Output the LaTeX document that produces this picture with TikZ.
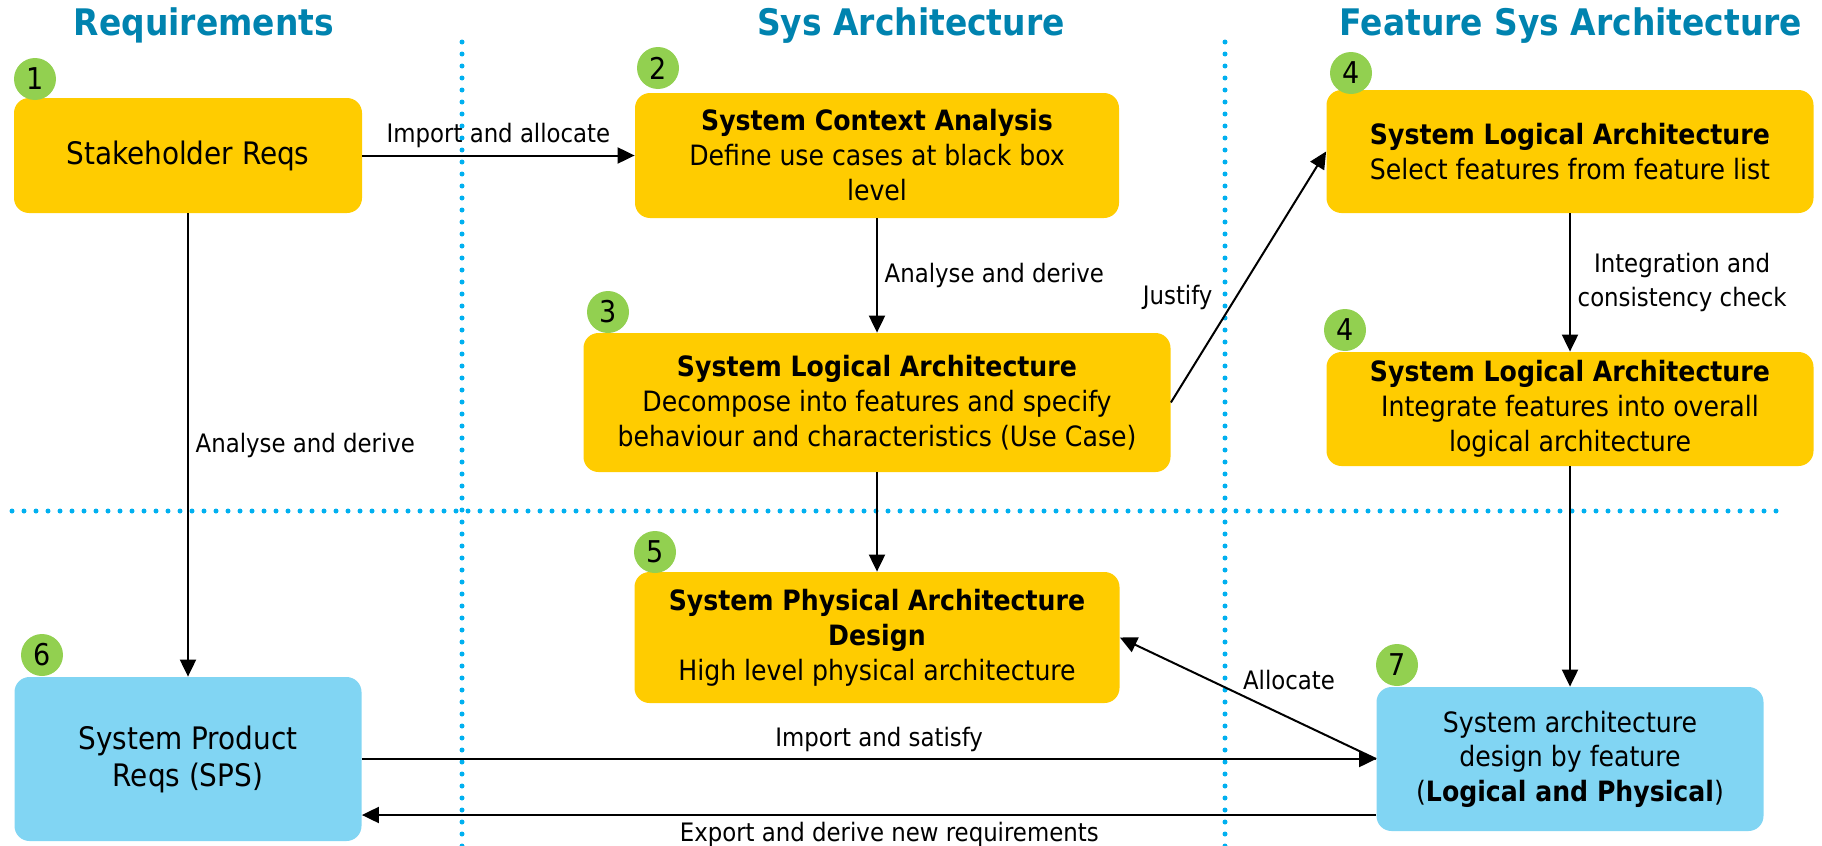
\documentclass[tikz,border=0pt]{standalone}
\usepackage{fontspec}
\setmainfont{DejaVu Sans Condensed}
\usetikzlibrary{arrows.meta}
\definecolor{boxyellow}{HTML}{FFCC00}
\definecolor{boxblue}{HTML}{81D5F3}
\definecolor{numgreen}{HTML}{92D050}
\definecolor{headblue}{HTML}{0083AF}
\definecolor{dotblue}{HTML}{00B0F0}

\begin{document}
\begin{tikzpicture}[x=0.5pt,y=-0.5pt,
  ybox/.style={fill=boxyellow,rounded corners=7.5pt,align=center,inner sep=0pt,font=\fontsize{14}{17.5}\selectfont},
  bbox/.style={ybox,fill=boxblue},
  numdot/.style={circle,fill=numgreen,minimum size=21pt,inner sep=0pt,font=\fontsize{15}{15}\selectfont},
  head/.style={anchor=base,text=headblue,font=\bfseries\fontsize{18.3}{22}\selectfont},
  lbl/.style={align=center,font=\fontsize{12.7}{17}\selectfont},
  divider/.style={dotblue,line width=2.5pt,line cap=round,dash pattern=on 0pt off 6pt},
  arr/.style={->,line width=1pt,>={Triangle[length=8.5pt,width=8pt]}}]
  \useasboundingbox (0,0) rectangle (1822,846);

  % column titles
  \node[head] (hreq) at (204,35) {Requirements};
  \node[head] (hsys) at (911,35) {Sys Architecture};
  \node[head] (hfeat) at (1571,35) {Feature Sys Architecture};

  % dotted dividers
  \draw[divider] (462,42) -- (462,846);
  \draw[divider] (1225,42) -- (1225,846);
  \draw[divider] (12,511) -- (1778,511);

  % boxes
  \node[ybox,minimum width=174pt,minimum height=57.5pt,font=\fontsize{15.5}{18.5}\selectfont] (req) at (188,155.5) {Stakeholder Reqs};
  \node[ybox,minimum width=242pt,minimum height=62.5pt] (ctx) at (877,155.5) {\textbf{System Context Analysis}\\Define use cases at black box\\level};
  \node[ybox,minimum width=293.5pt,minimum height=69.5pt] (slog) at (877,402.5) {\textbf{System Logical Architecture}\\Decompose into features and specify\\behaviour and characteristics (Use Case)};
  \node[ybox,minimum width=243.5pt,minimum height=61.5pt] (fsel) at (1570,151.5) {\textbf{System Logical Architecture}\\Select features from feature list};
  \node[ybox,minimum width=243.5pt,minimum height=57pt] (fint) at (1570,409) {\textbf{System Logical Architecture}\\Integrate features into overall\\logical architecture};
  \node[ybox,minimum width=242.5pt,minimum height=65.5pt] (phys) at (877,637.5) {\textbf{System Physical Architecture}\\\textbf{Design}\\High level physical architecture};
  \node[bbox,minimum width=173.5pt,minimum height=82pt,font=\fontsize{15.5}{18.5}\selectfont] (sps) at (188,759) {System Product\\Reqs (SPS)};
  \node[bbox,minimum width=193.5pt,minimum height=72pt,font=\fontsize{14}{17.25}\selectfont] (fdes) at (1570,759) {System architecture\\design by feature\\(\textbf{Logical and Physical})};

  % step numbers
  \node[numdot] (n1) at (35,79) {1};
  \node[numdot] (n2) at (658,68) {2};
  \node[numdot] (n3) at (608,312) {3};
  \node[numdot] (n4a) at (1351,73) {4};
  \node[numdot] (n4b) at (1345,330) {4};
  \node[numdot] (n5) at (655,552) {5};
  \node[numdot] (n6) at (42,655) {6};
  \node[numdot] (n7) at (1397,665) {7};

  % flows
  \draw[arr] (req) -- node[lbl,above] {Import and allocate} (ctx);
  \draw[arr] (req) -- node[lbl,right] {Analyse and derive} (sps);
  \draw[arr] (ctx) -- node[lbl,right] {Analyse and derive} (slog);
  \draw[arr] (slog.east) -- node[lbl,pos=0.42,left,xshift=-8pt] {Justify} (fsel.west);
  \draw[arr] (fsel) -- node[lbl,right] {Integration and\\consistency check} (fint);
  \draw[arr] (slog) -- (phys);
  \draw[arr] (fint) -- (fdes);
  \draw[arr] (fdes.west) -- node[lbl,pos=0.34,above,yshift=10pt] {Allocate} (phys.east);
  \draw[arr] (sps) -- node[lbl,pos=0.51,above] {Import and satisfy} (fdes);
  \draw[arr] ([yshift=-28pt]fdes.west) -- node[lbl,pos=0.48,below] {Export and derive new requirements} ([yshift=-28pt]sps.east);
\end{tikzpicture}
\end{document}
